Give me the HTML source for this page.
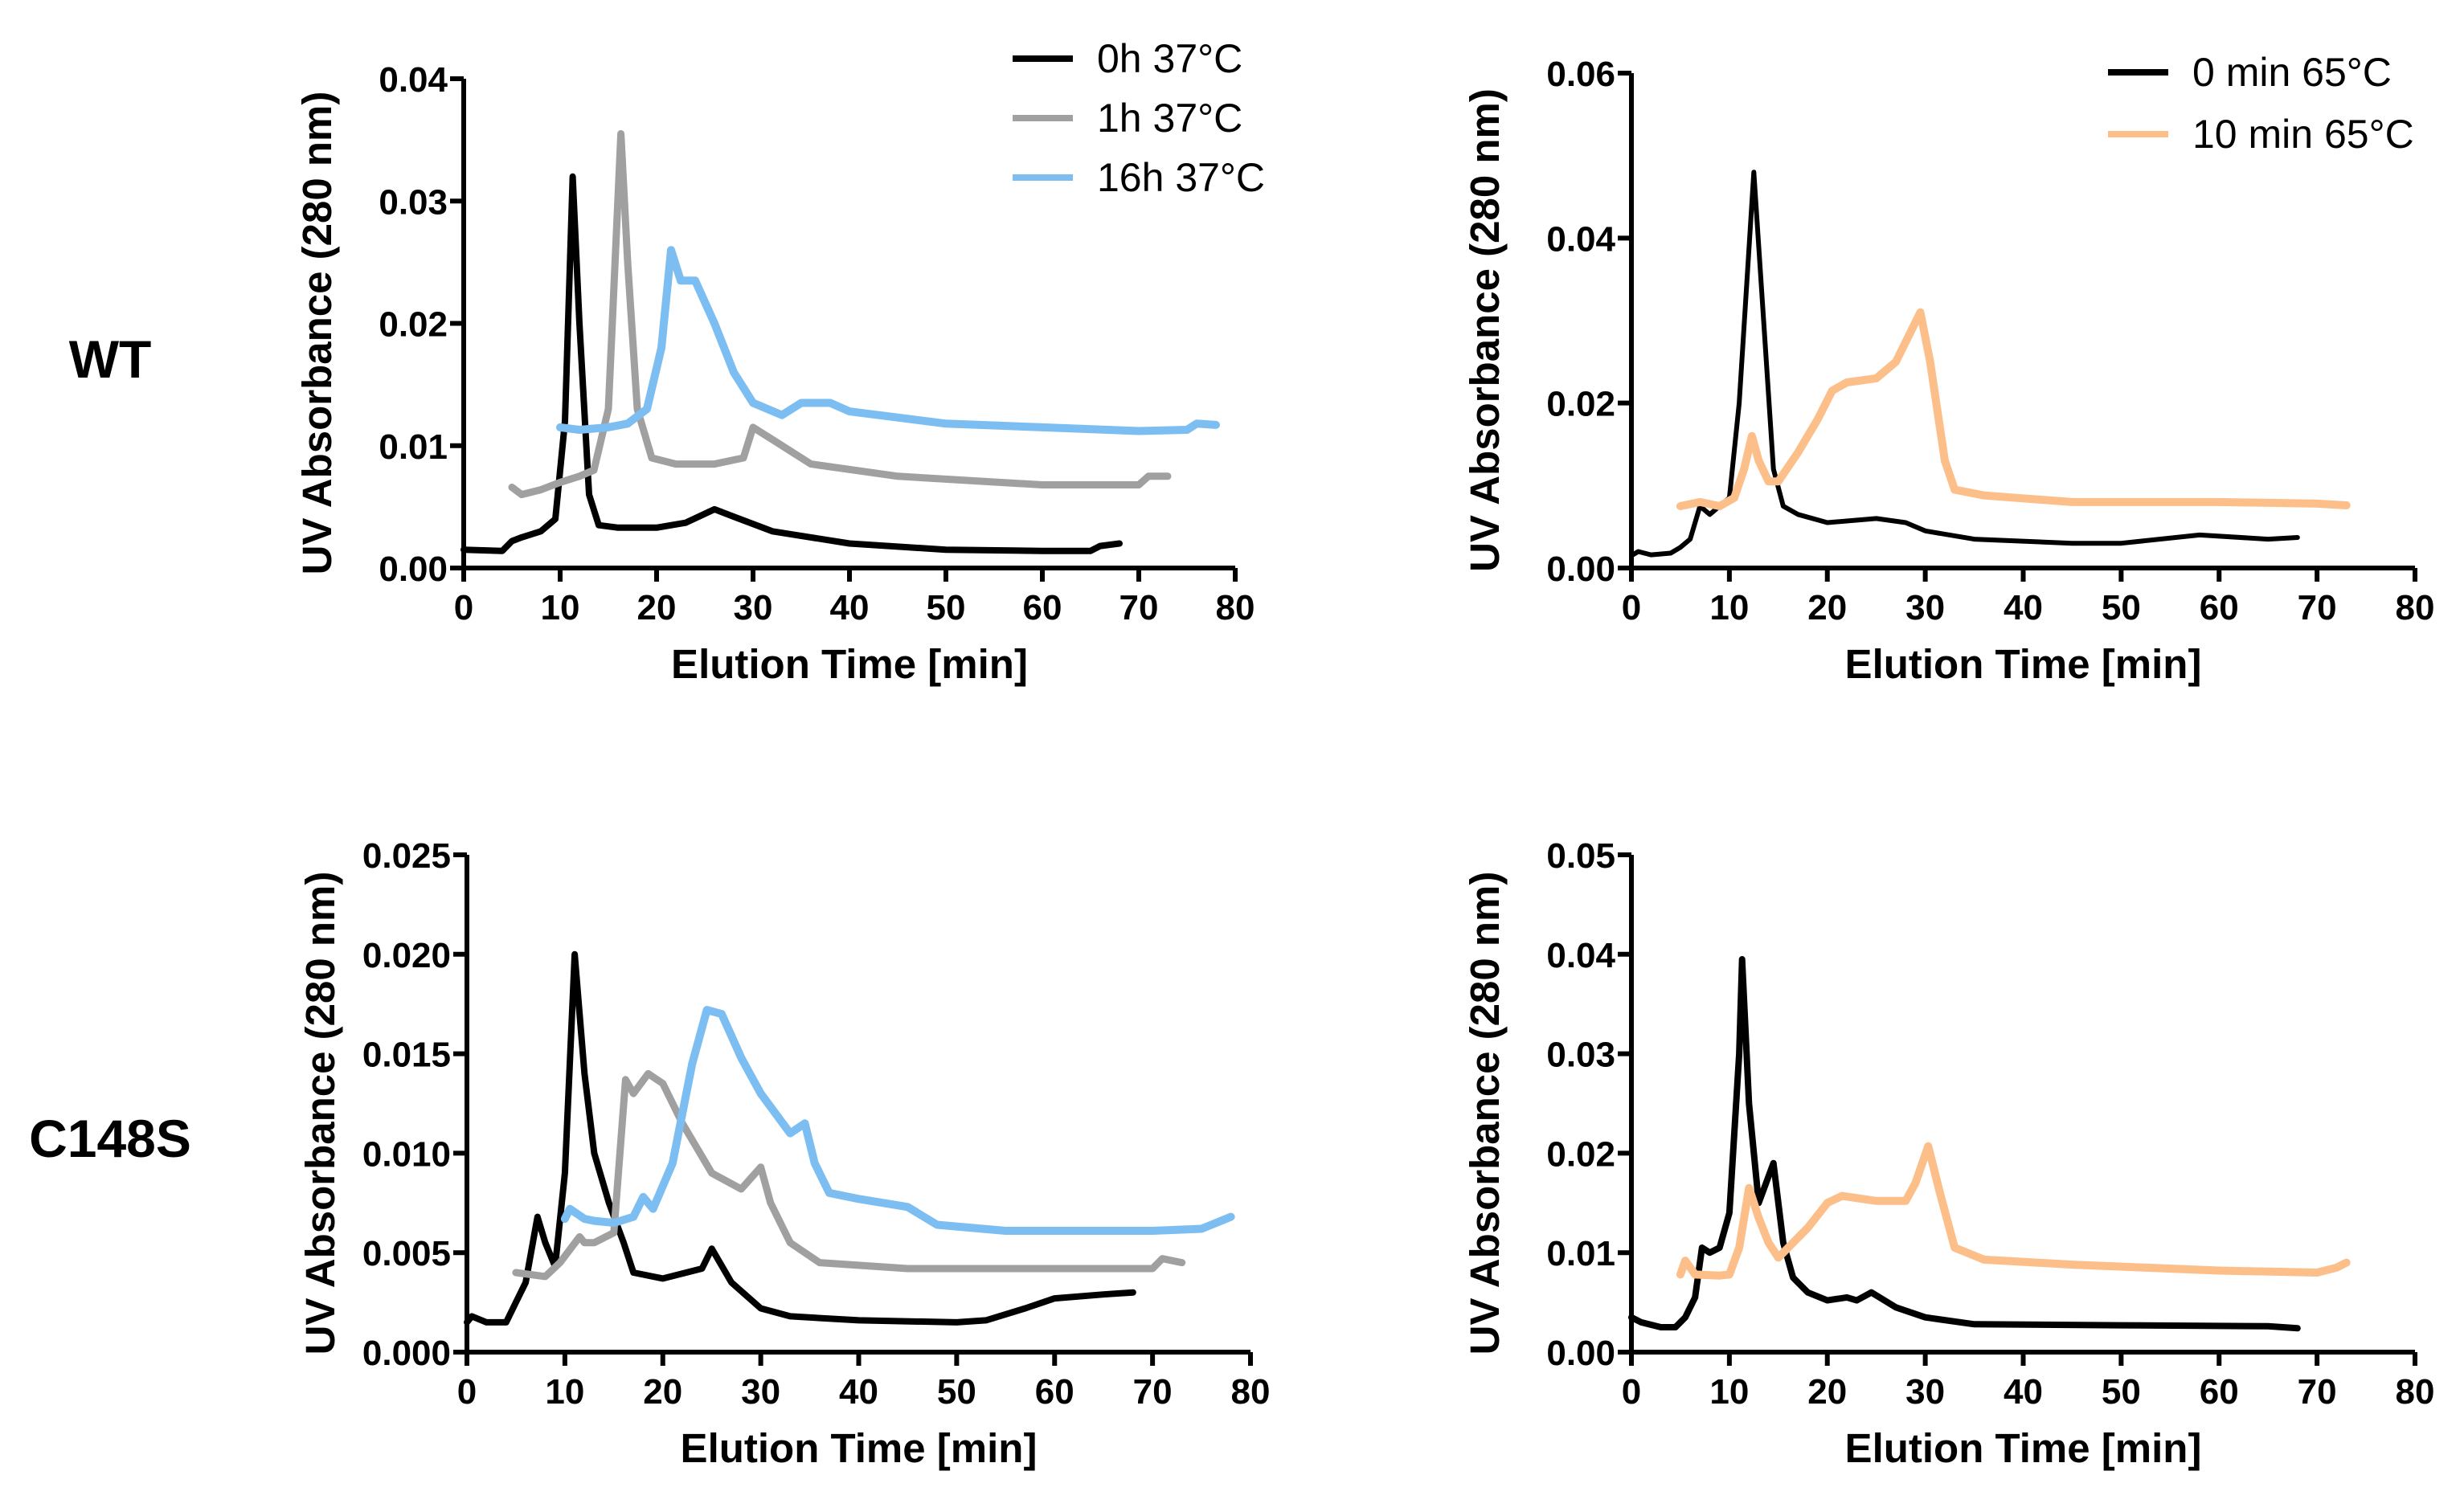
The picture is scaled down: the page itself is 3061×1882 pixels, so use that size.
<!DOCTYPE html>
<html><head><meta charset="utf-8">
<style>
body{margin:0;background:#fff;}
svg{display:block;font-family:"Liberation Sans",Arial,sans-serif;}
</style></head>
<body>
<svg id="fig" width="3061" height="1882" viewBox="0 0 3061 1882">
<text x="137" y="470" font-size="66" font-weight="bold" text-anchor="middle">WT</text>
<text x="137" y="1440" font-size="66" font-weight="bold" text-anchor="middle">C148S</text>
</svg>
<script>
// Panel A (WT, 37°C)
const a_0h_x=[0,4,5,6,8,9.5,10.5,11.3,12,13,14,16,20,23,26,28,32,40,50,60,65,66,68];
const a_0h_y=[0.0015,0.0014,0.0022,0.0025,0.003,0.004,0.012,0.032,0.02,0.006,0.0035,0.0033,0.0033,0.0037,0.0048,0.0042,0.003,0.002,0.0015,0.0014,0.0014,0.0018,0.002];
const a_1h_x=[5,6,8,10,12,13.5,15,16.3,17,18,19.5,22,26,29,30,32,36,45,60,70,71,73];
const a_1h_y=[0.0066,0.006,0.0064,0.007,0.0075,0.008,0.013,0.0355,0.025,0.013,0.009,0.0085,0.0085,0.009,0.0115,0.0105,0.0085,0.0075,0.0068,0.0068,0.0075,0.0075];
const a_16h_x=[10,12,15,17,19,20.5,21.5,22.5,24,26,28,30,33,35,38,40,45,50,60,70,75,76,78];
const a_16h_y=[0.0115,0.0113,0.0115,0.0118,0.013,0.018,0.026,0.0235,0.0235,0.02,0.016,0.0135,0.0125,0.0135,0.0135,0.0128,0.0123,0.0118,0.0115,0.0112,0.0113,0.0118,0.0117];
// Panel B (WT, 65°C)
const b_0_x=[0,0.7,2,4,5,6,7,8,9,10,11,12.5,13.5,14.5,15.5,17,20,25,28,30,35,45,50,58,65,68];
const b_0_y=[0.0015,0.002,0.0016,0.0018,0.0025,0.0035,0.0075,0.0065,0.0075,0.0085,0.02,0.048,0.03,0.012,0.0075,0.0065,0.0055,0.006,0.0055,0.0045,0.0035,0.003,0.003,0.004,0.0035,0.0037];
const b_10_x=[5,7,9,10.5,11.5,12.3,13,14,15,17,19,20.5,22,25,27,29.5,30.5,32,33,36,45,60,70,73];
const b_10_y=[0.0075,0.008,0.0075,0.0085,0.012,0.016,0.013,0.0105,0.0105,0.014,0.018,0.0215,0.0225,0.023,0.025,0.031,0.025,0.013,0.0095,0.0088,0.008,0.008,0.0078,0.0076];
// Panel C (C148S, 37°C)
const c_0h_x=[0,0.5,2,4,5,6,7.2,8,9,10,11,12,13,14.5,16,17,20,24,25,27,30,33,40,50,53,57,60,65,68];
const c_0h_y=[0.0015,0.0018,0.0015,0.0015,0.0025,0.0035,0.0068,0.0055,0.0043,0.009,0.02,0.014,0.01,0.0075,0.0055,0.004,0.0037,0.0042,0.0052,0.0035,0.0022,0.0018,0.0016,0.0015,0.0016,0.0022,0.0027,0.0029,0.003];
const c_1h_x=[5,8,9.5,11.5,12,13,15,16.2,17,18.5,20,22,25,28,30,31,33,36,45,60,70,71,73];
const c_1h_y=[0.004,0.0038,0.0045,0.0058,0.0055,0.0055,0.006,0.0137,0.013,0.014,0.0135,0.0115,0.009,0.0082,0.0093,0.0075,0.0055,0.0045,0.0042,0.0042,0.0042,0.0047,0.0045];
const c_16h_x=[10,10.5,12,13,15,17,18,19,21,23,24.5,26,28,30,33,34.5,35.5,37,40,45,48,55,70,75,78];
const c_16h_y=[0.0067,0.0072,0.0067,0.0066,0.0065,0.0068,0.0078,0.0072,0.0095,0.0145,0.0172,0.017,0.0148,0.013,0.011,0.0115,0.0095,0.008,0.0077,0.0073,0.0064,0.0061,0.0061,0.0062,0.0068];
// Panel D (C148S, 65°C)
const d_0_x=[0,1,3,4.5,5.5,6.5,7.2,8,9,10,11,11.3,12,13,14.5,15.5,16.5,18,20,22,23,24.5,27,30,35,50,65,68];
const d_0_y=[0.0035,0.003,0.0025,0.0025,0.0035,0.0055,0.0105,0.01,0.0105,0.014,0.03,0.0395,0.025,0.015,0.019,0.011,0.0075,0.006,0.0052,0.0055,0.0052,0.006,0.0045,0.0035,0.0028,0.0027,0.0026,0.0024];
const d_10_x=[5,5.5,6.5,9,10,11,12,13,14,15,16,18,20,21.5,25,28,29,30.3,31.5,33,36,45,60,70,72,73];
const d_10_y=[0.0078,0.0092,0.0078,0.0077,0.0078,0.0105,0.0165,0.0135,0.011,0.0095,0.0105,0.0125,0.015,0.0157,0.0152,0.0152,0.017,0.0207,0.016,0.0105,0.0093,0.0088,0.0082,0.008,0.0085,0.009];
// Ticks
const xTicks=[0,10,20,30,40,50,60,70,80];
const yTicksA=["0.00","0.01","0.02","0.03","0.04"];
const yTicksB=["0.00","0.02","0.04","0.06"];
const yTicksC=["0.000","0.005","0.010","0.015","0.020","0.025"];
const yTicksD=["0.00","0.01","0.02","0.03","0.04","0.05"];
const legA=["0h 37°C","1h 37°C","16h 37°C"];
const legB=["0 min 65°C","10 min 65°C"];

const NS="http://www.w3.org/2000/svg";
const svg=document.getElementById('fig');
function mk(tag,attrs,parent){const e=document.createElementNS(NS,tag);for(const k in attrs)e.setAttribute(k,attrs[k]);(parent||svg).appendChild(e);return e;}

function panel(id,x0,x1,y0,y1,yTicks,series,legend,legPos){
  const g=mk('g',{});
  
  
  const yMax=parseFloat(yTicks[yTicks.length-1]);
  const sx=v=>x0+(v/80)*(x1-x0);
  const sy=v=>y0-(v/yMax)*(y0-y1);
  series.forEach(s=>{
    const pts=s.x.map((xv,i)=>sx(xv).toFixed(1)+','+sy(s.y[i]).toFixed(1)).join(' ');
    const p=mk('polyline',{points:pts,fill:'none',stroke:s.c,'stroke-width':s.w,'stroke-linejoin':'round','stroke-linecap':'round'},g);
    
    
  });
  const ax=mk('path',{d:`M${x0},${y1} L${x0},${y0} L${x1},${y0}`,fill:'none',stroke:'#000','stroke-width':6},g);
  
  
  xTicks.forEach(t=>{
    mk('line',{x1:sx(t),x2:sx(t),y1:y0,y2:y0+17,stroke:'#000','stroke-width':6},g);
    const tx=mk('text',{x:sx(t),y:y0+64,'font-size':44,'font-weight':'bold','text-anchor':'middle'},g);
    tx.textContent=t;
    
    
  });
  yTicks.forEach(t=>{
    const yy=sy(parseFloat(t));
    mk('line',{x1:x0-17,x2:x0,y1:yy,y2:yy,stroke:'#000','stroke-width':6},g);
    const tx=mk('text',{x:x0-20,y:yy+16,'font-size':44,'font-weight':'bold','text-anchor':'end'},g);
    tx.textContent=t;
    
    
  });
  const xt=mk('text',{x:(x0+x1)/2,y:y0+137,'font-size':51,'font-weight':'bold','text-anchor':'middle'},g);
  xt.textContent='Elution Time [min]';
  
  
  const yc=(y0+y1)/2+12;
  const xl=x0-165;
  const yt=mk('text',{x:xl,y:yc,'font-size':51,'font-weight':'bold','text-anchor':'middle',transform:`rotate(-90 ${xl} ${yc})`},g);
  yt.textContent='UV Absorbance (280 nm)';
  
  
  if(legend){
    legend.forEach((l,i)=>{
      const ly=legPos.y+i*legPos.dy;
      const ln=mk('line',{x1:legPos.x,x2:legPos.x+75,y1:ly,y2:ly,stroke:series[i].c,'stroke-width':8},g);
      
      
      const t=mk('text',{x:legPos.x+105,y:ly+17,'font-size':50},g);
      t.textContent=l;
      
      
    });
  }
}
const BLK='#000',GRY='#a0a0a0',BLU='#7dbef2',ORG='#fdbf8a';
panel('wt-37',577,1537,707,98,yTicksA,[
  {n:'0h',x:a_0h_x,y:a_0h_y,c:BLK,w:8},
  {n:'1h',x:a_1h_x,y:a_1h_y,c:GRY,w:9},
  {n:'16h',x:a_16h_x,y:a_16h_y,c:BLU,w:10}],legA,{x:1260,y:73,dy:74});
panel('wt-65',2030,3005,707,91,yTicksB,[
  {n:'0min',x:b_0_x,y:b_0_y,c:BLK,w:6},
  {n:'10min',x:b_10_x,y:b_10_y,c:ORG,w:10}],legB,{x:2623,y:90,dy:77});
panel('c148s-37',581,1556,1683,1064,yTicksC,[
  {n:'0h',x:c_0h_x,y:c_0h_y,c:BLK,w:8},
  {n:'1h',x:c_1h_x,y:c_1h_y,c:GRY,w:9},
  {n:'16h',x:c_16h_x,y:c_16h_y,c:BLU,w:10}],null,null);
panel('c148s-65',2030,3005,1683,1064,yTicksD,[
  {n:'0min',x:d_0_x,y:d_0_y,c:BLK,w:8},
  {n:'10min',x:d_10_x,y:d_10_y,c:ORG,w:10}],null,null);
</script>
</body></html>
